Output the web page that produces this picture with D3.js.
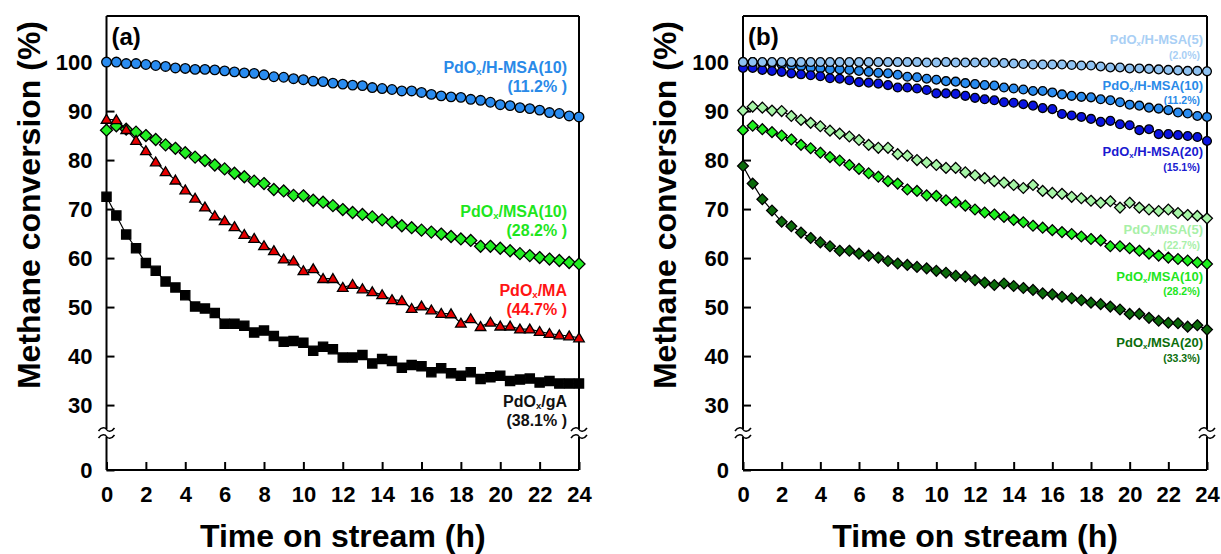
<!DOCTYPE html>
<html>
<head>
<meta charset="utf-8">
<title>Methane conversion vs time on stream</title>
<style>
  body { margin: 0; background: #fff; font-family: Arial, "Liberation Sans", Helvetica, sans-serif; }
  svg { display: block; }
  .axis .tick text { font-weight: bold; font-size: 22px; fill: #000; }
  .axis .tick line { stroke: #000; stroke-width: 2; }
  .axis path.domain { display: none; }
</style>
</head>
<body>
<svg width="1221" height="554"></svg>
<script src="https://d3js.org/d3.v7.min.js"></script>
<script>

// time on stream (h)
var hours = [0, 0.5, 1, 1.5, 2, 2.5, 3, 3.5, 4, 4.5, 5, 5.5, 6, 6.5, 7, 7.5, 8, 8.5, 9, 9.5,
  10, 10.5, 11, 11.5, 12, 12.5, 13, 13.5, 14, 14.5, 15, 15.5, 16, 16.5, 17, 17.5, 18, 18.5,
  19, 19.5, 20, 20.5, 21, 21.5, 22, 22.5, 23, 23.5, 24];

var yTicks = [0, 30, 40, 50, 60, 70, 80, 90, 100];
var xTicks = [0, 2, 4, 6, 8, 10, 12, 14, 16, 18, 20, 22, 24];

// methane conversion (%)
var hmsa10 = [100.0, 100.0, 99.7, 99.7, 99.5, 99.3, 99.1, 98.8, 98.7, 98.5, 98.5, 98.4, 98.2, 98.0, 97.8, 97.7,
  97.4, 97.0, 96.9, 96.6, 96.4, 96.1, 96.0, 95.7, 95.5, 95.3, 95.2, 94.8, 94.6, 94.4, 94.1, 94.1, 93.8,
  93.4, 93.1, 92.9, 92.8, 92.4, 92.2, 91.8, 91.3, 91.1, 90.7, 90.5, 90.2, 89.7, 89.5, 89.0, 88.8];

var msa10 = [86.1, 87.0, 86.3, 85.7, 85.0, 84.2, 83.1, 82.4, 81.5, 80.6, 79.9, 79.0, 78.2, 77.3, 76.6, 75.7,
  75.2, 74.0, 73.7, 72.8, 72.7, 71.8, 71.4, 70.7, 69.9, 69.3, 68.9, 68.4, 67.8, 67.3, 66.6, 66.2, 65.7,
  65.3, 64.9, 64.4, 63.9, 63.6, 62.4, 62.4, 62.0, 61.5, 60.9, 60.5, 60.1, 59.8, 59.5, 59.1, 58.8];

var ma = [88.3, 88.2, 86.2, 84.0, 81.9, 79.6, 77.6, 75.9, 73.9, 72.2, 70.4, 68.6, 67.6, 66.4, 64.8, 64.0,
  62.5, 61.5, 59.8, 59.4, 57.4, 57.8, 55.8, 55.8, 54.0, 54.6, 53.7, 53.1, 52.5, 51.5, 51.3, 49.7, 50.2,
  49.4, 48.7, 48.6, 46.7, 47.6, 46.0, 46.9, 46.1, 46.1, 45.5, 45.5, 45.0, 44.6, 44.3, 44.1, 43.7];

var ga = [72.5, 68.7, 64.8, 62.0, 59.0, 57.4, 55.2, 54.0, 52.4, 50.1, 49.7, 48.8, 46.6, 46.6, 46.2, 44.8,
  45.2, 44.1, 42.9, 43.1, 42.7, 41.1, 41.9, 41.4, 39.7, 39.7, 40.2, 38.5, 39.4, 39.0, 37.6, 38.2, 37.9,
  36.7, 37.5, 36.5, 36.0, 36.7, 35.3, 35.7, 36.0, 34.9, 35.2, 35.4, 34.6, 34.9, 34.4, 34.4, 34.4];

var hmsa5 = [100.0, 100.0, 100.0, 100.0, 100.0, 100.0, 100.0, 100.0, 100.0, 100.0, 100.0, 100.0, 100.0,
  100.0, 100.0, 100.0, 100.0, 100.0, 100.0, 99.9, 99.9, 100.0, 99.9, 99.9, 99.9, 99.9, 99.9, 99.8, 99.7,
  99.6, 99.5, 99.5, 99.5, 99.5, 99.4, 99.3, 99.3, 99.1, 98.9, 98.9, 98.7, 98.7, 98.6, 98.5, 98.4, 98.3,
  98.2, 98.2, 98.1];

var hmsa20 = [98.8, 98.8, 98.4, 98.2, 98.0, 97.7, 97.5, 97.3, 97.1, 96.7, 96.6, 96.3, 95.9, 95.8, 95.6, 95.3,
  94.8, 94.8, 94.6, 94.3, 93.6, 93.6, 93.5, 93.1, 92.7, 92.4, 92.2, 91.8, 91.7, 91.4, 91.1, 90.6, 90.4,
  89.4, 89.1, 88.8, 88.4, 87.8, 88.0, 87.3, 87.1, 86.1, 86.3, 85.3, 85.3, 85.1, 84.9, 84.7, 83.9];

var msa5 = [90.1, 90.9, 90.7, 90.1, 90.0, 89.0, 88.2, 87.6, 86.9, 86.0, 85.4, 84.8, 84.1, 83.1, 82.5, 82.5,
  81.2, 80.9, 80.0, 79.5, 79.0, 78.4, 78.4, 77.5, 76.9, 76.3, 75.7, 75.4, 74.9, 74.3, 74.9, 73.7, 73.3,
  73.1, 72.5, 72.2, 71.7, 71.3, 71.6, 70.3, 71.3, 70.3, 69.9, 69.6, 69.9, 69.2, 68.8, 68.6, 68.1];

var msa20 = [78.8, 75.2, 72.0, 69.7, 67.4, 66.5, 65.2, 64.1, 63.2, 62.4, 61.5, 61.5, 60.9, 60.5, 60.1, 59.4,
  58.9, 58.6, 58.2, 57.9, 57.4, 57.0, 56.4, 56.2, 55.5, 55.0, 54.5, 54.8, 54.3, 53.9, 53.5, 52.8, 52.6,
  52.1, 51.8, 51.4, 50.9, 50.6, 50.1, 49.5, 48.6, 48.6, 47.8, 47.2, 46.8, 46.7, 46.0, 46.3, 45.4];

var svg = d3.select("svg");

var top_ = 16, bottom = 470, breakY = 433;

// broken axis: 0 sits under the break, 30..100 is linear
var y = d3.scaleLinear()
  .domain([0, 24.3, 109.4])
  .range([bottom, breakY, top_]);

function diamond(s) { return "M0," + (-s) + "L" + s + ",0L0," + s + "L" + (-s) + ",0Z"; }
function square(s) { return "M" + (-s) + "," + (-s) + "h" + (2 * s) + "v" + (2 * s) + "h" + (-2 * s) + "Z"; }
function triangle(s) { return "M0," + (-s * 1.05) + "L" + (s * 1.1) + "," + (s * 0.8) + "L" + (-s * 1.1) + "," + (s * 0.8) + "Z"; }

function drawPanel(opt) {
  var x = d3.scaleLinear().domain([0, 24]).range([opt.x0, opt.x1]);
  var g = svg.append("g");

  // axes with inward ticks
  g.append("g")
    .attr("class", "axis")
    .attr("transform", "translate(" + opt.x0 + ",0)")
    .call(d3.axisLeft(y).tickValues(yTicks).tickSizeInner(-8).tickSizeOuter(0).tickPadding(14));

  g.append("g")
    .attr("class", "axis")
    .attr("transform", "translate(0," + bottom + ")")
    .call(d3.axisBottom(x).tickValues(xTicks).tickSizeInner(-8).tickSizeOuter(0).tickPadding(16));

  // frame, with a gap for the break
  var frame = "M" + opt.x0 + "," + top_ + "H" + opt.x1 +
    "M" + opt.x0 + "," + bottom + "H" + opt.x1 +
    "M" + opt.x0 + "," + top_ + "V" + (breakY - 4) + "M" + opt.x0 + "," + (breakY + 4) + "V" + bottom +
    "M" + opt.x1 + "," + top_ + "V" + (breakY - 4) + "M" + opt.x1 + "," + (breakY + 4) + "V" + bottom;
  g.append("path").attr("d", frame).attr("fill", "none").attr("stroke", "#000").attr("stroke-width", 2);

  [opt.x0, opt.x1].forEach(function (ax) {
    [breakY - 3.5, breakY + 3.5].forEach(function (by) {
      g.append("path")
        .attr("d", "M" + (ax - 8) + "," + (by + 1.5) + "C" + (ax - 5) + "," + (by - 3) + " " + (ax - 1) + "," + (by - 2) + " " + ax + "," + by +
          "S" + (ax + 5) + "," + (by + 3) + " " + (ax + 8) + "," + (by - 1.5))
        .attr("fill", "none").attr("stroke", "#000").attr("stroke-width", 1.5);
    });
  });

  var line = d3.line()
    .x(function (d, i) { return x(hours[i]); })
    .y(function (d) { return y(d); });

  opt.series.forEach(function (s) {
    g.append("path")
      .attr("d", line(s.values))
      .attr("fill", "none")
      .attr("stroke", "#000")
      .attr("stroke-width", 1.2);

    var pts = g.append("g").selectAll("path")
      .data(s.values)
      .enter().append("path")
      .attr("transform", function (d, i) { return "translate(" + x(hours[i]) + "," + y(d) + ")"; })
      .attr("fill", s.color)
      .attr("stroke", "#000")
      .attr("stroke-width", 1.3);
    if (s.shape === "circle") pts.attr("d", d3.symbol().type(d3.symbolCircle).size(Math.PI * s.size * s.size));
    else if (s.shape === "diamond") pts.attr("d", diamond(s.size));
    else if (s.shape === "square") pts.attr("d", square(s.size));
    else pts.attr("d", triangle(s.size));
  });

  // panel letter
  g.append("text")
    .attr("x", opt.x0 + 5)
    .attr("y", 45)
    .attr("font-size", 24)
    .attr("font-weight", "bold")
    .text(opt.letter);

  // series labels
  opt.labels.forEach(function (l) {
    var t = g.append("text")
      .attr("x", opt.x1 - opt.labelPad)
      .attr("y", l.y)
      .attr("text-anchor", "end")
      .attr("font-size", opt.nameSize)
      .attr("font-weight", "bold")
      .attr("fill", l.color);
    t.append("tspan").text("PdO");
    t.append("tspan").attr("font-size", opt.nameSize * 0.6).attr("dy", 2).text("x");
    t.append("tspan").attr("dy", -2).text(l.name);

    g.append("text")
      .attr("x", opt.x1 - opt.labelPad - opt.pctShift)
      .attr("y", l.y + opt.pctGap)
      .attr("text-anchor", "end")
      .attr("font-size", opt.pctSize)
      .attr("font-weight", "bold")
      .attr("fill", l.color)
      .text(l.pct);
  });

  // axis titles
  g.append("text")
    .attr("transform", "translate(" + (opt.x0 - 67) + ",205) rotate(-90)")
    .attr("text-anchor", "middle")
    .attr("font-size", 32)
    .attr("font-weight", "bold")
    .text("Methane conversion (%)");

  g.append("text")
    .attr("x", (opt.x0 + opt.x1) / 2)
    .attr("y", 547)
    .attr("text-anchor", "middle")
    .attr("font-size", 32)
    .attr("font-weight", "bold")
    .text("Time on stream (h)");
}

drawPanel({
  x0: 106.5, x1: 579, letter: "(a)",
  nameSize: 16, pctSize: 16, pctGap: 18.5, pctShift: 0, labelPad: 12,
  series: [
    { values: ga, shape: "square", color: "#000", size: 4.6 },
    { values: msa10, shape: "diamond", color: "#22ee22", size: 6 },
    { values: ma, shape: "triangle", color: "#e60000", size: 4.8 },
    { values: hmsa10, shape: "circle", color: "#2a8cf0", size: 4.8 }
  ],
  labels: [
    { name: "/H-MSA(10)", pct: "(11.2% )", y: 73, color: "#2a8ae8" },
    { name: "/MSA(10)", pct: "(28.2% )", y: 217, color: "#1ee61e" },
    { name: "/MA", pct: "(44.7% )", y: 296, color: "#ff1414" },
    { name: "/gA", pct: "(38.1% )", y: 407, color: "#111" }
  ]
});

drawPanel({
  x0: 743, x1: 1207, letter: "(b)",
  nameSize: 13, pctSize: 10.5, pctGap: 14.5, pctShift: 3, labelPad: 4,
  series: [
    { values: msa20, shape: "diamond", color: "#0b6a0b", size: 5.4 },
    { values: msa10, shape: "diamond", color: "#1ef01e", size: 5.4 },
    { values: msa5, shape: "diamond", color: "#a6f5a6", size: 5.4 },
    { values: hmsa10, shape: "circle", color: "#2a8cf0", size: 4.4 },
    { values: hmsa20, shape: "circle", color: "#0a14e0", size: 4.4 },
    { values: hmsa5, shape: "circle", color: "#8fc2f2", size: 4.4 }
  ],
  labels: [
    { name: "/H-MSA(5)", pct: "(2.0%)", y: 44, color: "#a9cff5" },
    { name: "/H-MSA(10)", pct: "(11.2%)", y: 89.5, color: "#2a8ae8" },
    { name: "/H-MSA(20)", pct: "(15.1%)", y: 156, color: "#1a1ad0" },
    { name: "/MSA(5)", pct: "(22.7%)", y: 234, color: "#a8f0a8" },
    { name: "/MSA(10)", pct: "(28.2%)", y: 280.5, color: "#1ee61e" },
    { name: "/MSA(20)", pct: "(33.3%)", y: 347, color: "#0c6e0c" }
  ]
});

</script>
</body>
</html>
